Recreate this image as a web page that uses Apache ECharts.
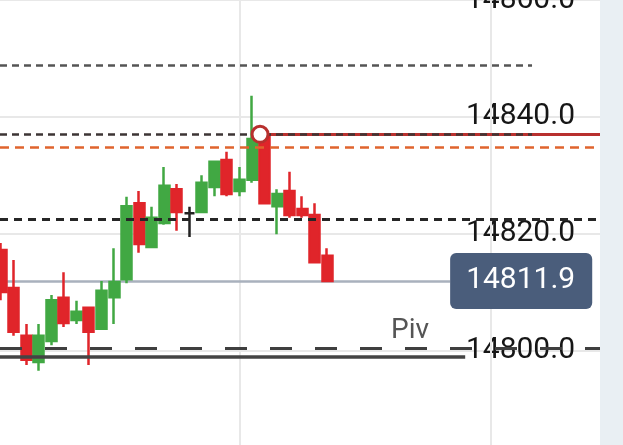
<!DOCTYPE html>
<html>
<head>
<meta charset="utf-8">
<script src="https://cdn.jsdelivr.net/npm/echarts@6/dist/echarts.min.js"></script>
<style>
  html, body { margin: 0; padding: 0; background: #fff; }
  #chart { width: 623px; height: 445px; }
</style>
</head>
<body>
<div id="chart"></div>
<script>
// candles, oldest first
var opens  = [14817.2, 14810.7, 14802.5, 14798.0, 14801.6, 14809.0, 14805.2, 14807.3, 14803.7, 14809.1,
              14812.2, 14825.2, 14817.7, 14821.8, 14827.6, 14823.5, 14823.7, 14828.0, 14832.6, 14827.3,
              14829.2, 14836.5, 14824.7, 14827.3, 14824.2, 14823.2, 14816.2];
var closes = [14810.0, 14803.2, 14798.4, 14802.5, 14808.6, 14804.7, 14806.6, 14803.2, 14810.2, 14811.7,
              14824.7, 14818.2, 14822.7, 14828.2, 14823.7, 14823.5, 14828.7, 14832.3, 14826.8, 14829.2,
              14836.2, 14825.2, 14826.8, 14823.2, 14823.2, 14815.1, 14811.9];
var lows   = [14808.6, 14802.5, 14797.5, 14796.5, 14800.9, 14804.0, 14804.5, 14797.5, 14803.7, 14804.5,
              14811.5, 14816.7, 14817.5, 14821.5, 14820.5, 14819.4, 14823.5, 14826.4, 14826.4, 14826.4,
              14828.7, 14825.2, 14819.9, 14822.7, 14822.7, 14815.1, 14811.9];
var highs  = [14818.4, 14815.5, 14804.5, 14804.5, 14809.5, 14813.4, 14808.5, 14807.3, 14811.9, 14817.5,
              14826.3, 14827.3, 14824.6, 14831.4, 14828.5, 14824.6, 14830.0, 14832.4, 14834.0, 14831.4,
              14843.6, 14837.0, 14827.6, 14830.6, 14826.4, 14825.2, 14817.5];

var lastPrice = 14811.9;
var pivot = 14800.35;
var baseLevel = 14798.9;
var upperLevel = 14848.9;
var entryLevel = 14837.0;
var stopLevel = 14834.8;
var midLevel = 14822.45;

// x-axis layout (in candle index units)
var XMIN = -0.096, XMAX = 47.75;
var shortEnd = 42.33, priceEnd = 35.8, baseEnd = 37.0, entryAt = 20.64, pivLabelAt = 32.6;

var UP = '#41a843', DOWN = '#e0252a';

var candles = opens.map(function (o, i) {
    var item = { value: [i, o, closes[i], lows[i], highs[i]] };
    if (o === closes[i]) {
        item.itemStyle = { color: '#222', color0: '#222', borderColor: '#222', borderColor0: '#222' };
    }
    return item;
});

function hline(v, x0, x1, style) {
    return [{ coord: [x0, v], lineStyle: style }, { coord: [x1, v] }];
}

var myChart = echarts.init(document.getElementById('chart'));

var option = {
    animation: false,
    grid: { left: 0, right: 23, top: 0, bottom: -22.2, outerBoundsMode: 'none', containLabel: false },
    xAxis: {
        type: 'value',
        min: XMIN,
        max: XMAX,
        show: false
    },
    yAxis: {
        type: 'value',
        position: 'right',
        min: 14780,
        max: 14860,
        interval: 20,
        axisLine: { show: false },
        axisTick: { show: false },
        axisLabel: {
            inside: true,
            margin: 25,
            fontSize: 30,
            fontFamily: 'Roboto',
            color: '#161616',
            formatter: function (v) { return v.toFixed(1); }
        },
        splitLine: { lineStyle: { color: '#e8e8e8', width: 2 } }
    },
    series: [{
        type: 'line',
        data: [],
        markLine: {
            z: 1,
            silent: true,
            symbol: 'none',
            label: { show: false },
            lineStyle: { color: '#e8e8e8', width: 2, type: 'solid' },
            data: [
                { xAxis: 19 },
                { xAxis: 39 },
                hline(lastPrice, XMIN, priceEnd, { color: '#a9b1bd', width: 2.5, type: 'solid' })
            ]
        }
    }, {
        type: 'candlestick',
        barWidth: 10.5,
        data: candles,
        itemStyle: {
            color: UP,
            color0: DOWN,
            borderColor: UP,
            borderColor0: DOWN,
            borderWidth: 2.5
        },
        markLine: {
            silent: true,
            symbol: 'none',
            label: { show: false },
            data: [
                hline(upperLevel, XMIN, shortEnd, { color: '#555', width: 2.5, type: [7, 5] }),
                hline(entryLevel, entryAt, XMAX, { color: '#b8302e', width: 3, type: 'solid' }),
                hline(entryLevel, XMIN, shortEnd, { color: '#3d3535', width: 2.5, type: [7, 5] }),
                hline(stopLevel, XMIN, XMAX, { color: '#e0642e', width: 2.5, type: [9, 6] }),
                hline(midLevel, XMIN, XMAX, { color: '#262626', width: 3, type: [8, 6] }),
                hline(pivot, XMIN, XMAX, { color: '#3f3f3f', width: 3, type: [22, 23] }),
                hline(baseLevel, XMIN, baseEnd, { color: '#444', width: 3.5, type: 'solid' }),
                [{
                    coord: [XMIN, lastPrice],
                    lineStyle: { color: 'rgba(0,0,0,0)', width: 0 },
                    label: {
                        show: true,
                        position: 'end',
                        distance: 0,
                        formatter: lastPrice.toFixed(1),
                        color: '#fff',
                        fontSize: 30,
                        fontFamily: 'Roboto',
                        backgroundColor: '#4a5d7b',
                        borderRadius: 6,
                        lineHeight: 36,
                        padding: [10, 17, 10, 16]
                    }
                }, { coord: [priceEnd, lastPrice] }]
            ]
        },
        markPoint: {
            silent: true,
            data: [{
                coord: [entryAt, entryLevel],
                symbol: 'circle',
                symbolSize: 16,
                itemStyle: { color: '#fff', borderColor: '#b8302e', borderWidth: 3 },
                label: { show: false }
            }, {
                coord: [pivLabelAt, pivot],
                symbol: 'circle',
                symbolSize: 1,
                itemStyle: { color: 'rgba(0,0,0,0)' },
                label: {
                    show: true,
                    position: 'inside',
                    offset: [0, -17],
                    formatter: 'Piv',
                    fontSize: 28,
                    fontFamily: 'Roboto',
                    color: '#555'
                }
            }]
        }
    }],
    graphic: [{
        type: 'rect',
        right: 0,
        top: 0,
        z: 100,
        shape: { width: 23, height: 445 },
        style: { fill: '#e9eff3' }
    }]
};

myChart.setOption(option);
</script>
</body>
</html>
